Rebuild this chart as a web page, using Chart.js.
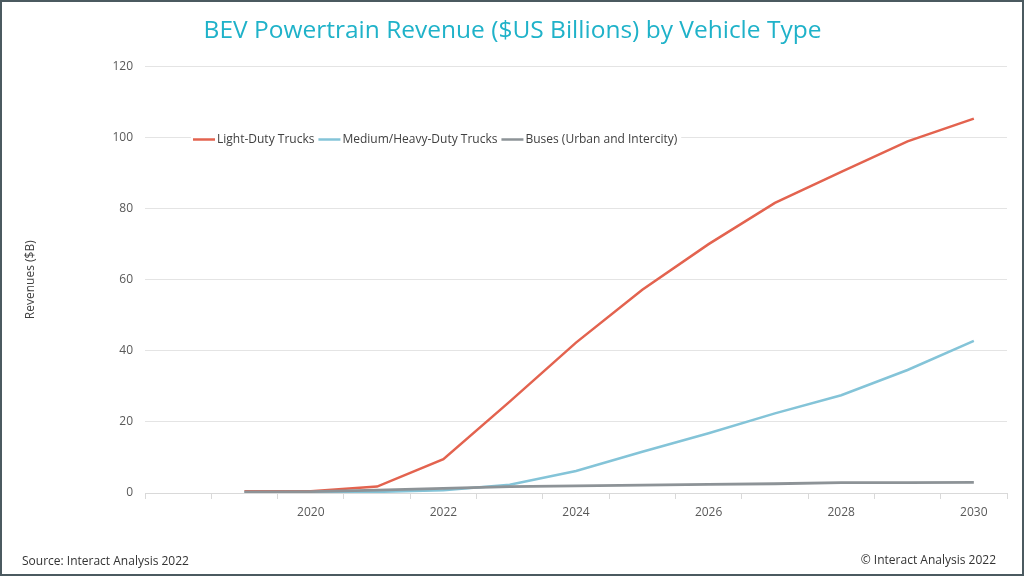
<!DOCTYPE html>
<html>
<head>
<meta charset="utf-8">
<script src="https://cdn.jsdelivr.net/npm/chart.js@4"></script>
<style>
  html, body { margin: 0; padding: 0; background: #fff; }
  #wrap { width: 1024px; height: 576px; position: relative; }
</style>
</head>
<body>
<div id="wrap"><canvas id="chart" width="1024" height="576"></canvas></div>
<script>
// years on the category axis (2018 is an empty slot, as in the original)
let years = ['2018', '2019', '2020', '2021', '2022', '2023', '2024', '2025', '2026', '2027', '2028', '2029', '2030'];
let lightDuty = [null, 0.5, 0.5, 1.8, 9.5, 25.7, 42.3, 57.2, 70.0, 81.6, 90.3, 98.9, 105.3];
let mediumHeavy = [null, 0.2, 0.2, 0.3, 0.8, 2.3, 6.2, 11.6, 16.8, 22.4, 27.5, 34.6, 42.8];
let buses = [null, 0.3, 0.4, 0.8, 1.3, 1.8, 2.0, 2.2, 2.4, 2.6, 2.9, 2.9, 3.0];
let seriesNames = ['Light-Duty Trucks', 'Medium/Heavy-Duty Trucks', 'Buses (Urban and Intercity)'];
let colors = ['#e3634f', '#84c4d8', '#8d9397'];
let yTicks = [0, 20, 40, 60, 80, 100, 120];
let shownYears = ['2020', '2022', '2024', '2026', '2028', '2030'];

const FONT = '"Open Sans", "Noto Sans", sans-serif';

// legend sits inside the plot, on top of the 100 gridline
const insideLegend = {
  id: 'insideLegend',
  afterDraw(chart) {
    const ctx = chart.ctx;
    const y = chart.scales.y.getPixelForValue(100) + 2;
    ctx.save();
    ctx.font = '12px ' + FONT;
    ctx.textBaseline = 'middle';
    let x = 193;
    const items = chart.data.datasets;
    let total = 0;
    items.forEach(d => { total += 24 + ctx.measureText(d.label).width + 4; });
    ctx.fillStyle = '#fff';
    ctx.fillRect(x - 2, y - 9, total + 2, 18);
    items.forEach(d => {
      ctx.strokeStyle = d.borderColor;
      ctx.lineWidth = 2.5;
      ctx.beginPath();
      ctx.moveTo(x, y);
      ctx.lineTo(x + 22, y);
      ctx.stroke();
      ctx.fillStyle = '#404040';
      ctx.fillText(d.label, x + 24, y);
      x += 24 + ctx.measureText(d.label).width + 4;
    });
    ctx.restore();
  }
};

const frame = {
  id: 'frame',
  beforeDraw(chart) {
    const ctx = chart.ctx;
    ctx.save();
    ctx.fillStyle = '#fff';
    ctx.fillRect(0, 0, chart.width, chart.height);
    ctx.restore();
  },
  afterDraw(chart) {
    const ctx = chart.ctx;
    ctx.save();
    ctx.font = '12px ' + FONT;
    ctx.fillStyle = '#333';
    ctx.textBaseline = 'middle';
    ctx.textAlign = 'left';
    ctx.fillText('Source: Interact Analysis 2022', 22, 562);
    ctx.textAlign = 'right';
    ctx.fillText('\u00A9 Interact Analysis 2022', 996, 561);
    ctx.strokeStyle = '#4b5a60';
    ctx.lineWidth = 2;
    ctx.strokeRect(1, 1, chart.width - 2, chart.height - 2);
    ctx.restore();
  }
};

new Chart(document.getElementById('chart'), {
  type: 'line',
  data: {
    labels: years,
    datasets: [
      { label: seriesNames[0], data: lightDuty, borderColor: colors[0], backgroundColor: colors[0], borderWidth: 2.5, order: 3 },
      { label: seriesNames[1], data: mediumHeavy, borderColor: colors[1], backgroundColor: colors[1], borderWidth: 2.5, order: 2 },
      { label: seriesNames[2], data: buses, borderColor: colors[2], backgroundColor: colors[2], borderWidth: 2.8, order: 1 }
    ]
  },
  options: {
    responsive: false,
    animation: false,
    elements: { point: { radius: 0 }, line: { tension: 0 } },
    layout: { padding: { left: 18, right: 17, top: 16, bottom: 8 } },
    plugins: {
      legend: { display: false },
      tooltip: { enabled: false },
      title: {
        display: true,
        text: 'BEV Powertrain Revenue ($US Billions) by Vehicle Type',
        color: '#1fb2c9',
        font: { family: FONT, size: 24.5, weight: 'normal' },
        padding: { top: 0, bottom: 21 }
      }
    },
    scales: {
      x: {
        offset: true,
        grid: { offset: true, drawOnChartArea: false, drawTicks: true, tickLength: 6, color: '#d9d9d9' },
        border: { color: '#d9d9d9' },
        ticks: {
          autoSkip: false,
          maxRotation: 0,
          color: '#595959',
          font: { family: FONT, size: 12 },
          padding: 6,
          callback: function (v) {
            const l = this.getLabelForValue(v);
            return shownYears.includes(l) ? l : '';
          }
        },
        afterFit: s => { s.height = 75; }
      },
      y: {
        min: 0,
        max: 120,
        afterBuildTicks: s => { s.ticks = yTicks.map(v => ({ value: v })); },
        grid: { color: '#e4e4e4', drawTicks: false },
        border: { display: false },
        ticks: { color: '#595959', font: { family: FONT, size: 12 }, padding: 12 },
        title: { display: true, text: 'Revenues ($B)', color: '#404040', font: { family: FONT, size: 12 }, padding: { top: 5, bottom: 0 } },
        afterFit: s => { s.width = 127; }
      }
    }
  },
  plugins: [frame, insideLegend]
});
</script>
</body>
</html>
